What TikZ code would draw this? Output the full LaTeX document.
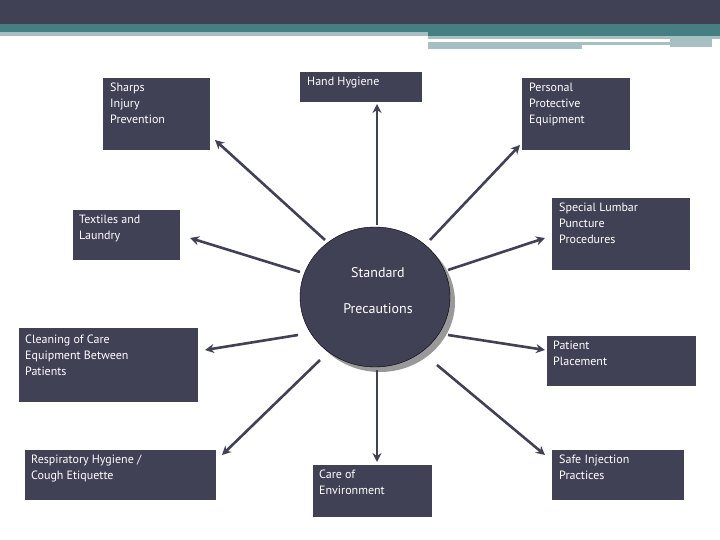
\documentclass[tikz,border=0pt]{standalone}
\usepackage{fontspec}
\setmainfont{PT Sans}
\usetikzlibrary{arrows.meta}
\definecolor{dk}{HTML}{414155}
\definecolor{teal}{HTML}{467F82}
\definecolor{lt}{HTML}{A5BFC2}
\begin{document}
\begin{tikzpicture}[x=1pt,y=-1pt,
 box/.style={fill=dk,text=white,font=\fontsize{12}{16}\selectfont,align=left,anchor=north west,inner sep=0pt},
 arr/.style={draw=dk,line width=2.6pt,-{Stealth[length=9pt,width=9pt]}}]
\useasboundingbox (0,0) rectangle (720,540);
\fill[dk] (0,0) rectangle (720,24);
\fill[teal] (0,24) rectangle (720,32);
\fill[lt] (0,32) rectangle (428,36);
\fill[teal] (428,32) rectangle (720,36);
\fill[lt] (428,36) rectangle (720,39);
\fill[lt] (428,42) rectangle (670,45);
\fill[lt] (428,45) rectangle (582,49);
\fill[lt] (670,36) rectangle (712,47);
% boxes
\newcommand\bx[6]{\fill[dk] (#2,#3) rectangle (#4,#5); \node[box] (#1) at (#2+7,#3+6) {#6}; \coordinate (#1c) at ($(#2,#3)!0.5!(#4,#5)$);}
\fill[dk] (103,78) rectangle (210,150); \node[box] (sh) at (110,83) {Sharps\\Injury\\Prevention};
\fill[dk] (300,72) rectangle (422,102); \node[box] (hh) at (307,77) {Hand Hygiene};
\fill[dk] (522,78) rectangle (630,150); \node[box] (pp) at (529,83) {Personal\\Protective\\Equipment};
\fill[dk] (73,210) rectangle (180,260); \node[box] (tx) at (79,215) {Textiles and\\Laundry};
\fill[dk] (552,198) rectangle (690,270); \node[box] (sl) at (559,203) {Special Lumbar\\Puncture\\Procedures};
\fill[dk] (19,328) rectangle (198,402); \node[box] (cl) at (25,335) {Cleaning of Care\\Equipment Between\\Patients};
\fill[dk] (547,336) rectangle (696,386); \node[box] (pa) at (553,341) {Patient\\Placement};
\fill[dk] (25,450) rectangle (216,500); \node[box] (re) at (31,455) {Respiratory Hygiene /\\Cough Etiquette};
\fill[dk] (313,465) rectangle (432,517); \node[box] (ce) at (319,470) {Care of\\Environment};
\fill[dk] (552,450) rectangle (684,500); \node[box] (si) at (559,455) {Safe Injection\\Practices};
% circle
\fill[gray!80] (380,302) ellipse (75 and 70);
\draw[black,fill=dk] (375,297) ellipse (75 and 70);
\node[text=white,font=\fontsize{14}{18}\selectfont] (c1) at (378,273) {Standard};
\node[text=white,font=\fontsize{14}{18}\selectfont] (c2) at (378,309) {Precautions};
\coordinate (cc) at (375,297);
% arrows
\foreach \a/\b/\c/\d in {325/240/215/140, 377/225/377/104, 430/240/520/145, 300/272/190/238, 448/270/545/238, 298/335/205/350, 448/335/545/350, 320/360/222/455, 377/370/377/462, 437/365/545/455}
 {\coordinate (s) at (\a,\b); \coordinate (e) at (\c,\d); \draw[arr] (s) -- (e);}
\end{tikzpicture}
\end{document}
